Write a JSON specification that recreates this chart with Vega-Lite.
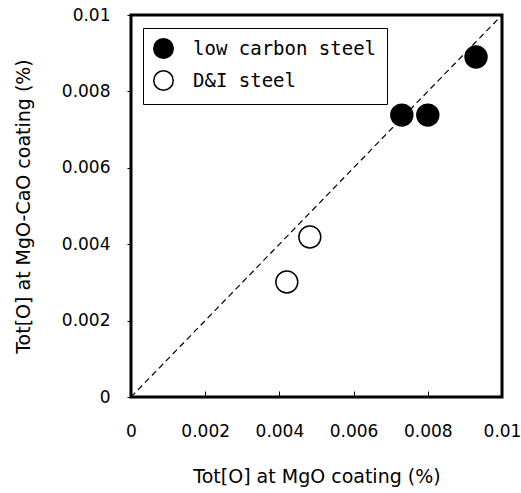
{
  "$schema": "https://vega.github.io/schema/vega-lite/v6.json",
  "width": 371,
  "height": 382,
  "autosize": {"type": "none"},
  "padding": {"left": 131, "top": 15, "right": 19, "bottom": 96},
  "background": "white",
  "config": {
    "view": {"stroke": "black", "strokeWidth": 3},
    "axis": {
      "grid": false,
      "domain": false,
      "labelFont": "DejaVu Sans",
      "labelFontSize": 17,
      "labelColor": "black",
      "titleFont": "DejaVu Sans",
      "titleFontSize": 19,
      "titleFontWeight": "normal",
      "titleColor": "black",
      "titleLimit": 800,
      "tickColor": "black",
      "labelFlush": false,
      "labelOverlap": false
    }
  },
  "layer": [
    {
      "data": {"values": [{"a": 0, "b": 0}, {"a": 0.01, "b": 0.01}]},
      "mark": {"type": "line", "color": "black", "strokeDash": [6, 4], "strokeWidth": 1.2},
      "encoding": {
        "x": {"field": "a", "type": "quantitative", "scale": {"domain": [0, 0.01], "nice": false},
          "axis": {"title": "Tot[O] at MgO coating (%)", "values": [0, 0.002, 0.004, 0.006, 0.008, 0.01], "format": "~g", "tickSize": -6, "labelPadding": 32, "titlePadding": 28}},
        "y": {"field": "b", "type": "quantitative", "scale": {"domain": [0, 0.01], "nice": false},
          "axis": {"title": "Tot[O] at MgO-CaO coating (%)", "values": [0, 0.002, 0.004, 0.006, 0.008, 0.01], "format": "~g", "tickSize": 4, "labelPadding": 17, "titlePadding": 28}}
      }
    },
    {
      "data": {"values": [
        {"mgo": 0.0073, "mgocao": 0.00738, "steel": "low carbon steel"},
        {"mgo": 0.0080, "mgocao": 0.00738, "steel": "low carbon steel"},
        {"mgo": 0.0093, "mgocao": 0.0089, "steel": "low carbon steel"},
        {"mgo": 0.00482, "mgocao": 0.00419, "steel": "D&I steel"},
        {"mgo": 0.0042, "mgocao": 0.00301, "steel": "D&I steel"}
      ]},
      "mark": {"type": "point", "filled": true, "size": 480, "stroke": "black", "strokeWidth": 1.5, "opacity": 1},
      "encoding": {
        "x": {"field": "mgo", "type": "quantitative"},
        "y": {"field": "mgocao", "type": "quantitative"},
        "fill": {"field": "steel", "type": "nominal",
          "scale": {"domain": ["low carbon steel", "D&I steel"], "range": ["black", "white"]},
          "legend": {"title": null, "orient": "none", "legendX": 12, "legendY": 13, "strokeColor": "black", "fillColor": "white", "padding": 10,
            "symbolType": "circle", "symbolSize": 380, "symbolStrokeColor": "black", "symbolStrokeWidth": 1.5, "symbolOpacity": 1,
            "labelFont": "DejaVu Sans Mono", "labelFontSize": 19, "labelLimit": 400, "labelColor": "black", "rowPadding": 5, "labelOffset": 19}}
      }
    }
  ]
}
